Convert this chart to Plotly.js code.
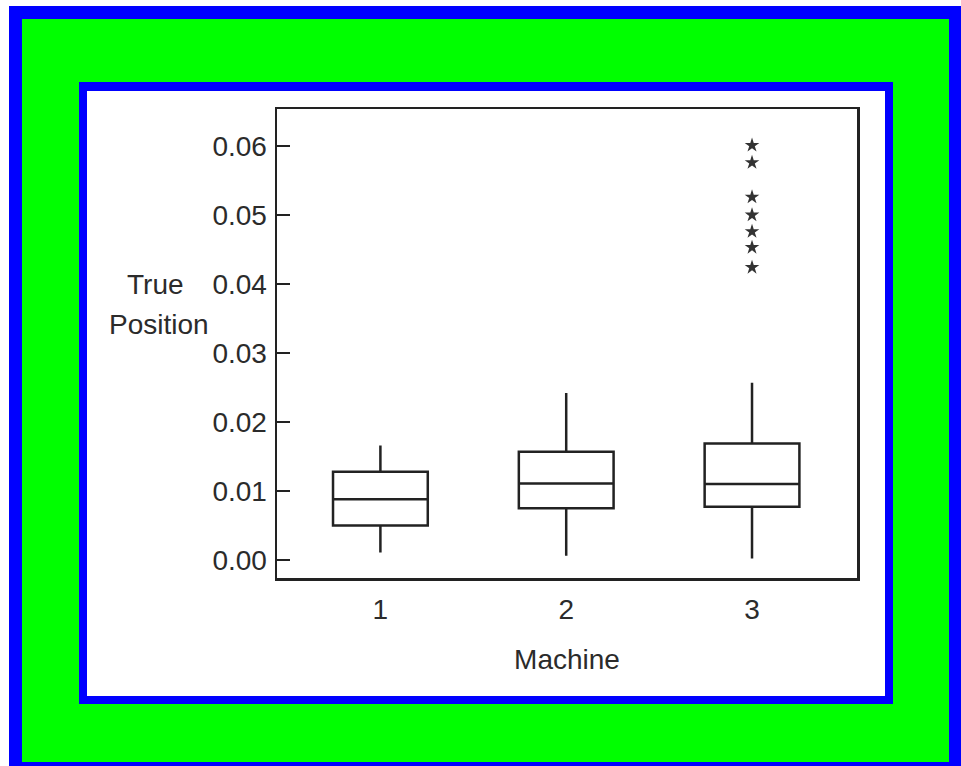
<!DOCTYPE html>
<html>
<head>
<meta charset="utf-8">
<script src="https://cdn.plot.ly/plotly-3.0.1.min.js"></script>
<style>
html,body{margin:0;padding:0;background:#fff;}
#chart{width:961px;height:766px;}
</style>
</head>
<body>
<div id="chart"></div>
<script>
// ---- data ----
var machines = [1, 2, 3];
var machineLabels = ["1", "2", "3"];
var lowerWhisker = [0.0011, 0.0006, 0.0002];
var q1 = [0.0050, 0.0075, 0.0077];
var median = [0.0088, 0.0111, 0.0110];
var q3 = [0.0128, 0.0157, 0.0169];
var upperWhisker = [0.0166, 0.0242, 0.0257];
var outlierMachine = [3, 3, 3, 3, 3, 3, 3];
var outlierValues = [0.0601, 0.0576, 0.0526, 0.0500, 0.0476, 0.0453, 0.0424];
var yTickVals = [0, 0.01, 0.02, 0.03, 0.04, 0.05, 0.06];
var yTickText = ["0.00", "0.01", "0.02", "0.03", "0.04", "0.05", "0.06"];

// ---- layout geometry ----
var W = 961, H = 766;
var L = 277, R = 857, T = 109, B = 578;
var pw = R - L, ph = B - T;
function px(x) { return (x - L) / pw; }
function py(y) { return (B - y) / ph; }
function rect(x0, y0, x1, y1, color) {
  return {type: 'rect', xref: 'paper', yref: 'paper', layer: 'below',
    x0: px(x0), x1: px(x1), y0: py(y1), y1: py(y0),
    fillcolor: color, line: {width: 0}};
}

var FONT = 'Liberation Sans, Arial, sans-serif';
var TXT = '#2b2b2b';
var LINE = '#222222';

var traces = [
  {
    type: 'box',
    x: machines,
    q1: q1,
    median: median,
    q3: q3,
    lowerfence: lowerWhisker,
    upperfence: upperWhisker,
    width: 0.51,
    whiskerwidth: 0,
    boxpoints: false,
    fillcolor: '#ffffff',
    line: {color: LINE, width: 2.5},
    hoverinfo: 'skip',
    showlegend: false
  },
  {
    type: 'scatter',
    mode: 'markers',
    x: outlierMachine,
    y: outlierValues,
    marker: {symbol: 'star', size: 11, color: '#333333', line: {width: 0}},
    hoverinfo: 'skip',
    showlegend: false
  }
];

var layout = {
  width: W, height: H,
  margin: {l: L, r: W - R, t: T, b: H - B, pad: 0},
  paper_bgcolor: '#ffffff',
  plot_bgcolor: '#ffffff',
  showlegend: false,
  font: {family: FONT, size: 28, color: TXT},
  xaxis: {
    range: [0.4435, 3.565],
    tickmode: 'array',
    tickvals: machines,
    ticktext: machineLabels,
    ticks: '',
    showgrid: false,
    zeroline: false,
    showline: true,
    mirror: true,
    linecolor: LINE,
    linewidth: 2.5,
    ticklabelstandoff: 5,
    tickfont: {family: FONT, size: 28, color: TXT},
    title: {text: 'Machine', font: {family: FONT, size: 28, color: TXT}, standoff: 26}
  },
  yaxis: {
    range: [-0.00261, 0.06536],
    tickmode: 'array',
    tickvals: yTickVals,
    ticktext: yTickText,
    ticks: 'inside',
    ticklen: 13,
    tickwidth: 2.5,
    tickcolor: LINE,
    showgrid: false,
    zeroline: false,
    showline: true,
    mirror: true,
    linecolor: LINE,
    linewidth: 2.5,
    ticklabelstandoff: 2,
    tickfont: {family: FONT, size: 28, color: TXT}
  },
  shapes: [
    rect(9, 6, 961, 766, '#0000ff'),
    rect(22, 19, 949, 762, '#00ff00'),
    rect(79, 82, 893, 704, '#0000ff'),
    rect(87, 91, 885, 696, '#ffffff')
  ],
  annotations: [
    {xref: 'paper', yref: 'paper', x: px(155), y: py(284), text: 'True',
     showarrow: false, xanchor: 'center', yanchor: 'middle',
     font: {family: FONT, size: 28, color: TXT}},
    {xref: 'paper', yref: 'paper', x: px(159), y: py(324), text: 'Position',
     showarrow: false, xanchor: 'center', yanchor: 'middle',
     font: {family: FONT, size: 28, color: TXT}}
  ]
};

Plotly.newPlot('chart', traces, layout, {staticPlot: true, displayModeBar: false});
</script>
</body>
</html>
